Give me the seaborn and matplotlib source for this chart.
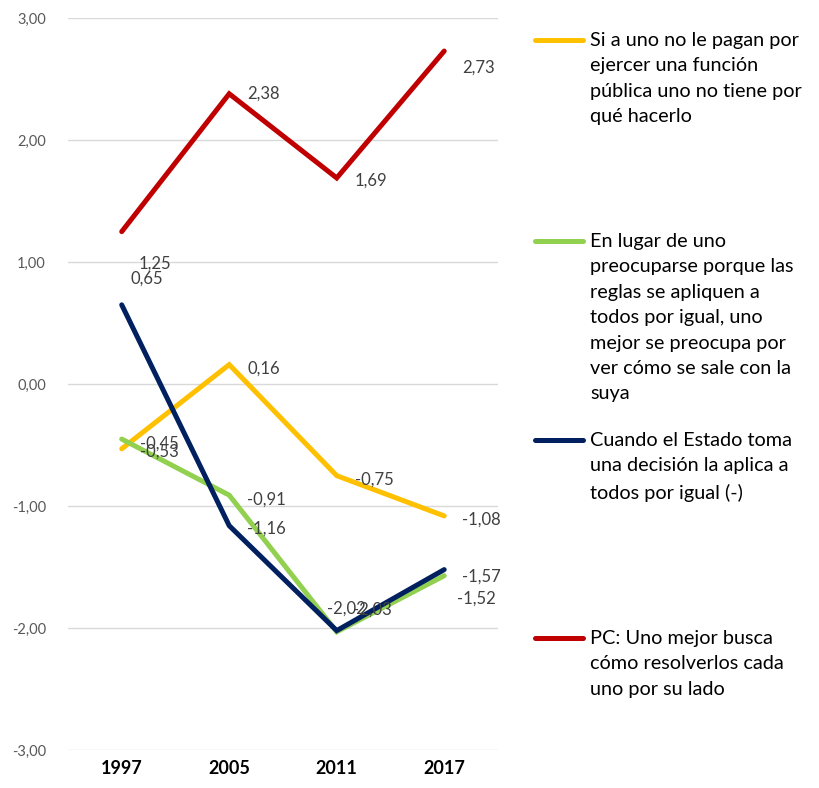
import matplotlib
matplotlib.use("Agg")
import matplotlib.pyplot as plt
import seaborn as sns
import pandas as pd
from matplotlib.lines import Line2D

years = ["1997", "2005", "2011", "2017"]
series_names = [
    "Si a uno no le pagan por\nejercer una función\npública uno no tiene por\nqué hacerlo",
    "En lugar de uno\npreocuparse porque las\nreglas se apliquen a\ntodos por igual, uno\nmejor se preocupa por\nver cómo se sale con la\nsuya",
    "Cuando el Estado toma\nuna decisión la aplica a\ntodos por igual (-)",
    "PC: Uno mejor busca\ncómo resolverlos cada\nuno por su lado",
]
yellow_vals = [-0.53, 0.16, -0.75, -1.08]
green_vals = [-0.45, -0.91, -2.03, -1.57]
navy_vals = [0.65, -1.16, -2.02, -1.52]
red_vals = [1.25, 2.38, 1.69, 2.73]
colors = ["#FFC000", "#92D050", "#002060", "#C00000"]
y_ticks = [-3, -2, -1, 0, 1, 2, 3]

all_vals = [yellow_vals, green_vals, navy_vals, red_vals]
rows = []
for name, vals in zip(series_names, all_vals):
    for i, (yr, v) in enumerate(zip(years, vals)):
        rows.append({"serie": name, "x": i, "year": yr, "value": v})
df = pd.DataFrame(rows)

sns.set_theme(style="white")
plt.rcParams["font.family"] = ["Lato", "DejaVu Sans"]

fig = plt.figure(figsize=(8.19, 7.88), dpi=100)
ax = fig.add_axes([0.083, 0.048, 0.525, 0.929])

sns.lineplot(data=df, x="x", y="value", hue="serie", palette=colors,
             hue_order=series_names, linewidth=3.6, ax=ax, legend=False,
             solid_capstyle="round", solid_joinstyle="miter")

ax.set_xlim(-0.5, 3.5)
ax.set_ylim(-3, 3)
ax.set_yticks(y_ticks)
ax.set_yticklabels([f"{t:.2f}".replace(".", ",") for t in y_ticks],
                   color="#595959", fontsize=10.5)
ax.set_xticks(range(len(years)))
ax.set_xticklabels(years, fontweight="bold", fontsize=13, color="black")
ax.tick_params(axis="x", length=0, pad=7)
ax.tick_params(axis="y", length=0, pad=16)
ax.grid(axis="y", color="#D9D9D9", linewidth=1)
ax.set_axisbelow(True)
for s in ax.spines.values():
    s.set_visible(False)
ax.set_xlabel("")
ax.set_ylabel("")

# data label offsets in points (dx, dy)
offsets = [
    [(13, -2), (13, -3), (13, -3), (13, -3)],
    [(13, -3), (13, -3), (12, 16), (13, -1)],
    [(6, 19), (13, -2), (-7, 16), (9, -21)],
    [(12, -23), (13, 0), (13, -2), (13, -12)],
]
for vals, offs in zip(all_vals, offsets):
    for i, (v, (dx, dy)) in enumerate(zip(vals, offs)):
        ax.annotate(f"{v:.2f}".replace(".", ","), (i, v), xytext=(dx, dy),
                    textcoords="offset points", ha="left", va="center",
                    fontsize=12, color="#404040")

# legend
legend_tops = [40, 241, 440, 638]
W, H = 819, 788
for name, c, yline in zip(series_names, colors, legend_tops):
    yf = 1 - yline / H
    fig.add_artist(Line2D([535 / W, 583 / W], [yf, yf], color=c, linewidth=3.6,
                          solid_capstyle="round", transform=fig.transFigure))
    fig.text(590 / W, 1 - (yline - 8) / H, name, ha="left", va="top",
             fontsize=14.3, color="black", linespacing=1.6,
             transform=fig.transFigure)

fig.savefig("out.png", dpi=100)
